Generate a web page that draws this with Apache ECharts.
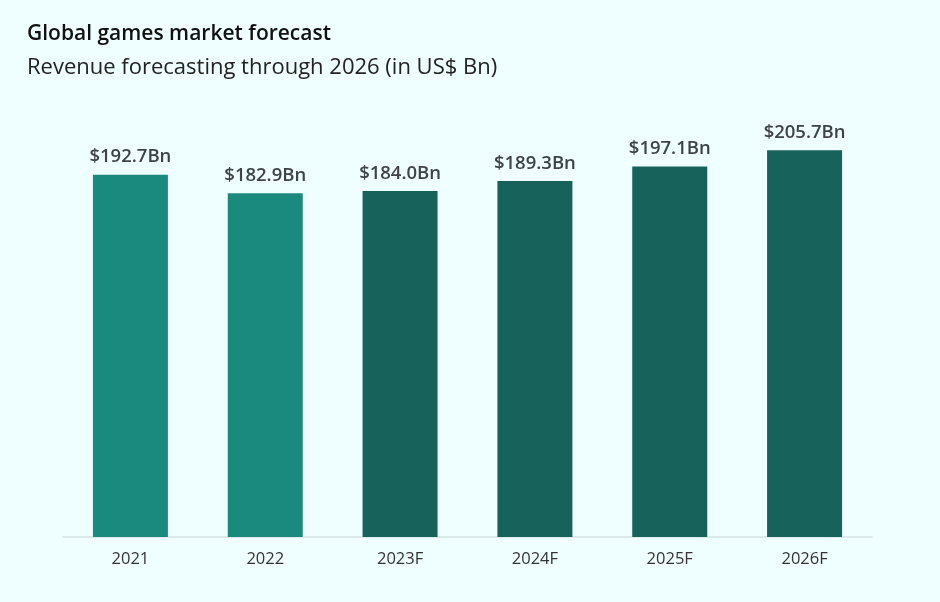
<!DOCTYPE html>
<html><head><meta charset="utf-8">
<script src="https://cdn.jsdelivr.net/npm/echarts@6/dist/echarts.min.js"></script>
<style>html,body{margin:0;padding:0;background:#effefe;}#c{width:940px;height:602px;}</style>
</head><body><div id="c"></div>
<script>
const categories = ['2021','2022','2023F','2024F','2025F','2026F'];
const revenue = [192.7, 182.9, 184.0, 189.3, 197.1, 205.7];
const isForecast = [false, false, true, true, true, true];
const actualColor = '#1b8a7e';
const forecastColor = '#17635b';
const font = '"Open Sans", sans-serif';
const chart = echarts.init(document.getElementById('c'));
chart.setOption({
  backgroundColor: '#effefe',
  animation: false,
  title: {
    text: 'Global games market forecast',
    subtext: 'Revenue forecasting through 2026 (in US$ Bn)',
    left: 27, top: 24, padding: 0,
    itemGap: 12,
    textStyle: {fontFamily: font, fontSize: 21, fontWeight: 600, color: '#111'},
    subtextStyle: {fontFamily: font, fontSize: 22, color: '#222'}
  },
  grid: {left: 63, right: 68, top: 67, bottom: 65},
  xAxis: {
    type: 'category', data: categories,
    axisLine: {lineStyle: {color: '#d6e2e2', width: 1.5}},
    axisTick: {show: false},
    axisLabel: {fontFamily: font, fontSize: 16.5, color: '#333', margin: 14}
  },
  yAxis: {type: 'value', min: 0, max: 250, show: false, splitLine: {show: false}},
  series: [{
    type: 'bar', barWidth: 75,
    data: revenue.map((v, i) => ({value: v, itemStyle: {color: isForecast[i] ? forecastColor : actualColor}})),
    label: {show: true, position: 'top', distance: 8, fontFamily: font, fontSize: 18.5, fontWeight: 600, color: '#3d4347',
      formatter: p => '$' + p.value.toFixed(1) + 'Bn'}
  }]
});
</script></body></html>
